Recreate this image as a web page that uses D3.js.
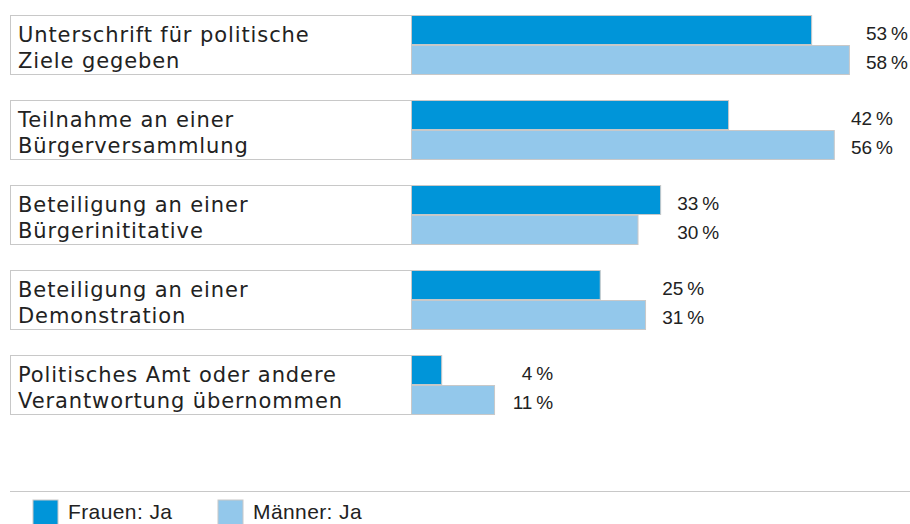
<!doctype html>
<html>
<head>
<meta charset="utf-8">
<script src="https://d3js.org/d3.v7.min.js"></script>
<style>
  body { margin: 0; background: #fff; }
  svg { display: block; font-family: "Liberation Sans", Arial, sans-serif; }
</style>
</head>
<body>
<script>
  // data
  var categories = [
    ["Unterschrift für politische", "Ziele gegeben"],
    ["Teilnahme an einer", "Bürgerversammlung"],
    ["Beteiligung an einer", "Bürgerinititative"],
    ["Beteiligung an einer", "Demonstration"],
    ["Politisches Amt oder andere", "Verantwortung übernommen"]
  ];
  var frauen = [53, 42, 33, 25, 4];
  var maenner = [58, 56, 30, 31, 11];
  var seriesNames = ["Frauen: Ja", "Männer: Ja"];
  var colors = ["#0095d9", "#93c8eb"];

  var width = 910, height = 524;
  var svg = d3.select("body").append("svg").attr("width", width).attr("height", height);

  var idx = d3.range(categories.length);
  var y = d3.scaleBand().domain(idx).range([15, 415]).paddingInner(25 / 85);
  var ySub = d3.scaleBand().domain([0, 1]).range([0, y.bandwidth()]);
  var x = d3.scaleLinear().domain([0, 100]).range([411, 1166]);

  var g = svg.selectAll(".grp").data(idx).enter().append("g")
    .attr("transform", function(i) { return "translate(0," + y(i) + ")"; });

  // label box
  g.append("rect")
    .attr("x", 10.5).attr("y", 0.5)
    .attr("width", x(0) - 10).attr("height", y.bandwidth() - 1)
    .attr("fill", "#fff").attr("stroke", "#c8c8c8");

  g.each(function(i) {
    var gg = d3.select(this);
    categories[i].forEach(function(line, k) {
      gg.append("text").attr("x", 18).attr("y", k === 0 ? 27 : 53)
        .attr("font-family", "'DejaVu Sans', sans-serif")
        .attr("font-size", 21).attr("letter-spacing", 0.9)
        .attr("fill", "#222").text(line);
    });
    var vals = [frauen[i], maenner[i]];
    var right = x(d3.max(vals)) + 59;
    vals.forEach(function(v, k) {
      gg.append("rect")
        .attr("x", x(0) + 0.5).attr("y", ySub(k) + 0.5)
        .attr("width", x(v) - x(0)).attr("height", ySub.bandwidth() - 1)
        .attr("fill", colors[k]).attr("stroke", "#c8c8c8");
      gg.append("text").attr("x", right).attr("y", k === 0 ? 25 : 54)
        .attr("text-anchor", "end").attr("font-size", 19).attr("fill", "#222")
        .text(v + "\u2009%");
    });
  });

  // legend
  svg.append("line").attr("x1", 10).attr("x2", 910).attr("y1", 491.5).attr("y2", 491.5)
    .attr("stroke", "#c8c8c8");
  var legX = [33, 218];
  seriesNames.forEach(function(n, k) {
    svg.append("rect").attr("x", legX[k]).attr("y", 500).attr("width", 25).attr("height", 30)
      .attr("fill", colors[k]).attr("stroke", "#c8c8c8");
    svg.append("text").attr("x", legX[k] + 35).attr("y", 519).attr("font-size", 21)
      .attr("letter-spacing", 0.4).attr("fill", "#222").text(n);
  });
</script>
</body>
</html>
